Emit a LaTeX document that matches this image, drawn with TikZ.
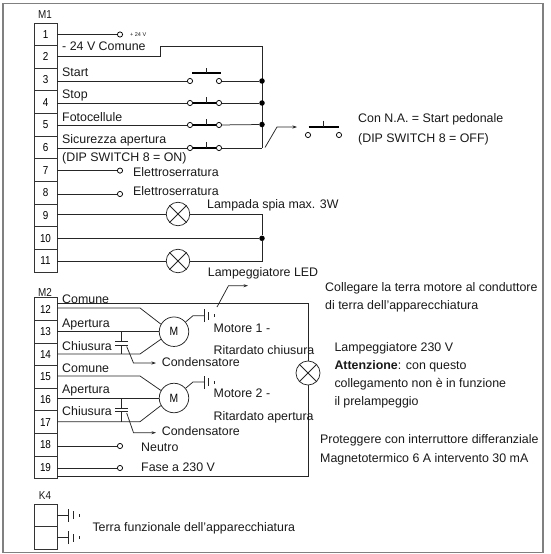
\documentclass[tikz,border=0pt]{standalone}
\usepackage{fontspec}
\setmainfont{Liberation Sans}
\newfontfamily\narrowface[FakeStretch=0.86]{Liberation Sans}
\usetikzlibrary{arrows.meta}
\tikzset{
  wire/.style={draw=black!85,line width=0.75pt,line join=miter},
  tip/.style={wire,-{Stealth[length=4.5pt,width=3pt]}},
  terminal/.style={draw=black!80,line width=0.85pt,fill=white,minimum width=23pt,minimum height=22.62pt,inner sep=0pt,font=\narrowface\fontsize{11.5}{13}\selectfont},
  contact/.style={circle,draw=black,line width=0.75pt,fill=white,inner sep=0pt,minimum size=5.2pt},
  junction/.style={circle,fill=black,inner sep=0pt,minimum size=5.5pt},
  lamp/.style={circle,draw=black!85,line width=0.75pt,inner sep=0pt,minimum size=23.5pt,
    append after command={(\tikzlastnode.45) edge[wire] (\tikzlastnode.225) (\tikzlastnode.135) edge[wire] (\tikzlastnode.315)}},
  motor/.style={circle,draw=black!85,line width=0.75pt,inner sep=0pt,minimum size=29.5pt,font=\narrowface\fontsize{12}{14}\selectfont},
  lbl/.style={anchor=base west,inner sep=0pt,font=\fontsize{12.4}{14}\selectfont,text=black!90},
  hdr/.style={inner sep=0pt,font=\narrowface\fontsize{11.5}{13}\selectfont,text=black!90},
  bar/.style={line width=1.7pt,draw=black},
  frame/.style={draw=black!50,line width=1.2pt}
}
\newcommand{\groundbars}[1]{%
  \draw[wire] ([yshift=-6.5pt]#1) -- ([yshift=6.5pt]#1);
  \draw[wire] ([xshift=4.8pt,yshift=-4.2pt]#1) -- ([xshift=4.8pt,yshift=4.2pt]#1);
  \draw[wire] ([xshift=10.5pt,yshift=-1.5pt]#1) -- ([xshift=10.5pt,yshift=1.5pt]#1);}
\begin{document}
\begin{tikzpicture}[x=1pt,y=-1pt]
\useasboundingbox (0,0) rectangle (550,554);
\draw[frame] (3,3.5) rectangle (543,552.5);

% terminals
\node[hdr] (m1) at (45,15) {M1};
\foreach \n [count=\i from 0] in {1,...,11}
  \node[terminal] (t\n) at (45.5,{34.3+22.64*\i}) {\n};
\node[hdr] (m2) at (45,292) {M2};
\foreach \n [count=\i from 0] in {12,...,19}
  \node[terminal] (t\n) at (45.5,{309.2+22.6*\i}) {\n};
\node[hdr] (k4) at (45,496) {K4};
\node[terminal] (ka) at (45.5,515.5) {};
\node[terminal] (kb) at (45.5,538) {};

% M1 free contacts
\node[contact] (c1) at (120,34.5) {};
\node[contact] (c7) at (120,170.6) {};
\node[contact] (c8) at (120,194) {};
\draw[wire] (t1.east |- c1) -- (c1);
\draw[wire] (t7.east |- c7) -- (c7);
\draw[wire] (t8.east |- c8) -- (c8);

% common bus
\coordinate (bt) at (262,46);
\coordinate (bb) at (262,148);
\coordinate (k2) at (160,56);
\draw[wire] (t2.east |- k2) -- (k2) |- (bt) -- (bb);

% push buttons
\node[contact] (c3a) at (190,81) {};
\node[contact] (c3b) at (219,81) {};
\node[contact] (c4a) at (190,103) {};
\node[contact] (c4b) at (219,103) {};
\node[contact] (c5a) at (190,125) {};
\node[contact] (c5b) at (219,125) {};
\node[contact] (c6a) at (190,148) {};
\node[contact] (c6b) at (219,148) {};
\node[junction] (j3) at (262,81) {};
\node[junction] (j4) at (262,103) {};
\node[junction] (j5) at (262,124.5) {};
\foreach \n in {3,4,5,6} \draw[wire] (t\n.east |- c\n a) -- (c\n a);
\draw[wire] (c3b) -- (j3);
\draw[wire] (c4b) -- (j4);
\draw[wire] (c5b) -- (j5);
\draw[wire] (c6b) -- (bb);
\draw[bar] (192,72.7) -- (221,72.7);
\draw[wire,line width=1pt] (206.5,68) -- (206.5,72.7);
\foreach \n/\y in {4/103,5/125,6/148}{
  \draw[bar] (c\n a) -- (c\n b);
  \draw[wire,line width=1pt] (206.5,\y-6) -- (206.5,\y);
}

% foot switch
\coordinate (fa) at (265,147.5);
\coordinate (fb) at (277,127);
\coordinate (fc) at (297,127);
\draw[tip] (fa) -- (fb) -- (fc);
\node[contact] (na) at (308,135) {};
\node[contact] (nb) at (339,135) {};
\draw[bar] (308.5,127) -- (339,127);
\draw[wire,line width=1pt] (323.5,120.5) -- (323.5,127);

% lamps
\node[lamp] (l9) at (178,214) {};
\node[lamp] (l11) at (178,261) {};
\node[junction] (j10) at (262,238.3) {};
\coordinate (r9) at (262,214);
\coordinate (r11) at (262,261);
\draw[wire] (t9.east |- l9) -- (l9);
\draw[wire] (l9) -- (r9) -- (j10) -- (r11) -- (l11);
\draw[wire] (l11) -- (t11.east |- l11);
\draw[wire] (t10.east |- j10) -- (j10);

% LED arrow
\coordinate (ga) at (217,307);
\coordinate (gb) at (228.5,285.7);
\coordinate (gc) at (248,285.7);
\draw[tip] (ga) -- (gb) -- (gc);

% M2 main loop
\node[lamp,minimum size=24pt] (l2) at (308,373) {};
\coordinate (lt) at (308.5,303.6);
\coordinate (lb) at (308.5,476.5);
\draw[wire] (t12.east |- lt) -- (lt) -- (l2.north -| lt);
\draw[wire] (l2.south -| lb) -- (lb) -- (t19.east |- lb);

% motor 1
\node[motor] (m1m) at (174,331.7) {M};
\coordinate (a12) at (140,308);
\coordinate (a14) at (140,354);
\draw[wire] (t12.east |- a12) -- (a12) -- (m1m.150);
\draw[wire] (t13.east |- m1m) -- (m1m);
\draw[wire] (t14.east |- a14) -- (a14) -- (m1m.210);
\coordinate (e1) at (193,315.7);
\coordinate (g1) at (204,315.7);
\draw[wire] (m1m.40) -- (e1) -- (g1);
\groundbars{g1}
\coordinate (ct1) at (121.7,331.7);
\coordinate (cu1) at (121.7,341.7);
\coordinate (cv1) at (121.7,345);
\coordinate (cw1) at (121.7,354);
\draw[wire] (ct1) -- (cu1) (cv1) -- (cw1);
\draw[wire] (115,341.7) -- (128,341.7) (115,345) -- (128,345);
\coordinate (ar1) at (126.7,346.5);
\coordinate (as1) at (133.5,363);
\coordinate (at1) at (156,363);
\draw[tip] (ar1) -- (as1) -- (at1);

% motor 2
\node[motor] (m2m) at (174,398) {M};
\coordinate (a15) at (140,376);
\coordinate (a17) at (140,421.7);
\draw[wire] (t15.east |- a15) -- (a15) -- (m2m.150);
\draw[wire] (t16.east |- m2m) -- (m2m);
\draw[wire] (t17.east |- a17) -- (a17) -- (m2m.210);
\coordinate (e2) at (193,382);
\coordinate (g2) at (204,382);
\draw[wire] (m2m.40) -- (e2) -- (g2);
\groundbars{g2}
\coordinate (ct2) at (121.7,398);
\coordinate (cu2) at (121.7,408);
\coordinate (cv2) at (121.7,411.5);
\coordinate (cw2) at (121.7,421.7);
\draw[wire] (ct2) -- (cu2) (cv2) -- (cw2);
\draw[wire] (115,408) -- (128,408) (115,411.5) -- (128,411.5);
\coordinate (ar2) at (126.7,413);
\coordinate (as2) at (133.5,432.7);
\coordinate (at2) at (156,432.7);
\draw[tip] (ar2) -- (as2) -- (at2);

% 18, 19
\node[contact] (c18) at (120,446) {};
\node[contact] (c19) at (120,468) {};
\draw[wire] (t18.east |- c18) -- (c18);
\draw[wire] (t19.east |- c19) -- (c19);

% K4 earths
\coordinate (ga1) at (68.5,515);
\coordinate (ga2) at (68.5,537.7);
\draw[wire] (ka.east |- ga1) -- (ga1);
\draw[wire] (kb.east |- ga2) -- (ga2);
\groundbars{ga1}
\groundbars{ga2}

% labels
\node[lbl,font=\fontsize{5.5}{7}\selectfont] (v24) at (130,36.5) {+ 24 V};
\node[lbl] (x1) at (62,50.5) {- 24 V Comune};
\node[lbl] (x2) at (62,76) {Start};
\node[lbl] (x3) at (62,98.5) {Stop};
\node[lbl] (x4) at (62,121.5) {Fotocellule};
\node[lbl] (x5) at (62,143.5) {Sicurezza apertura};
\node[lbl] (x6) at (62,161.5) {(DIP SWITCH 8 = ON)};
\node[lbl] (x7) at (133,176.5) {Elettroserratura};
\node[lbl] (x8) at (133,195.5) {Elettroserratura};
\node[lbl] (x9) at (207,208.5) {Lampada spia max. 3W};
\node[lbl] (x10) at (207.7,276.5) {Lampeggiatore LED};
\node[lbl] (x11) at (358,122.5) {Con N.A. = Start pedonale};
\node[lbl] (x12) at (358,142.5) {(DIP SWITCH 8 = OFF)};
\node[lbl] (x13) at (62,303.5) {Comune};
\node[lbl] (x14) at (62,327.5) {Apertura};
\node[lbl] (x15) at (62,350) {Chiusura};
\node[lbl] (x16) at (161.7,366.5) {Condensatore};
\node[lbl] (x17) at (213.5,332.5) {Motore 1 -};
\node[lbl] (x18) at (213.5,354.5) {Ritardato chiusura};
\node[lbl] (x19) at (62,372) {Comune};
\node[lbl] (x20) at (62,393.5) {Apertura};
\node[lbl] (x21) at (62,415.5) {Chiusura};
\node[lbl] (x22) at (161.7,435) {Condensatore};
\node[lbl] (x23) at (213.5,397.5) {Motore 2 -};
\node[lbl] (x24) at (213.5,420.5) {Ritardato apertura};
\node[lbl] (x25) at (141,451.5) {Neutro};
\node[lbl] (x26) at (141,471.5) {Fase a 230 V};
\node[lbl] (x27) at (92.3,531.5) {Terra funzionale dell'apparecchiatura};
\node[lbl] (x28) at (325,291.5) {Collegare la terra motore al conduttore};
\node[lbl] (x29) at (325,309.5) {di terra dell'apparecchiatura};
\node[lbl] (x30) at (334.3,351) {Lampeggiatore 230 V};
\node[lbl] (x31) at (334.3,369.5) {\textbf{Attenzione}: con questo};
\node[lbl] (x32) at (334.3,387) {collegamento non è in funzione};
\node[lbl] (x33) at (334.3,405) {il prelampeggio};
\node[lbl] (x34) at (320,443.5) {Proteggere con interruttore differanziale};
\node[lbl] (x35) at (320,462) {Magnetotermico 6 A intervento 30 mA};
\end{tikzpicture}
\end{document}
